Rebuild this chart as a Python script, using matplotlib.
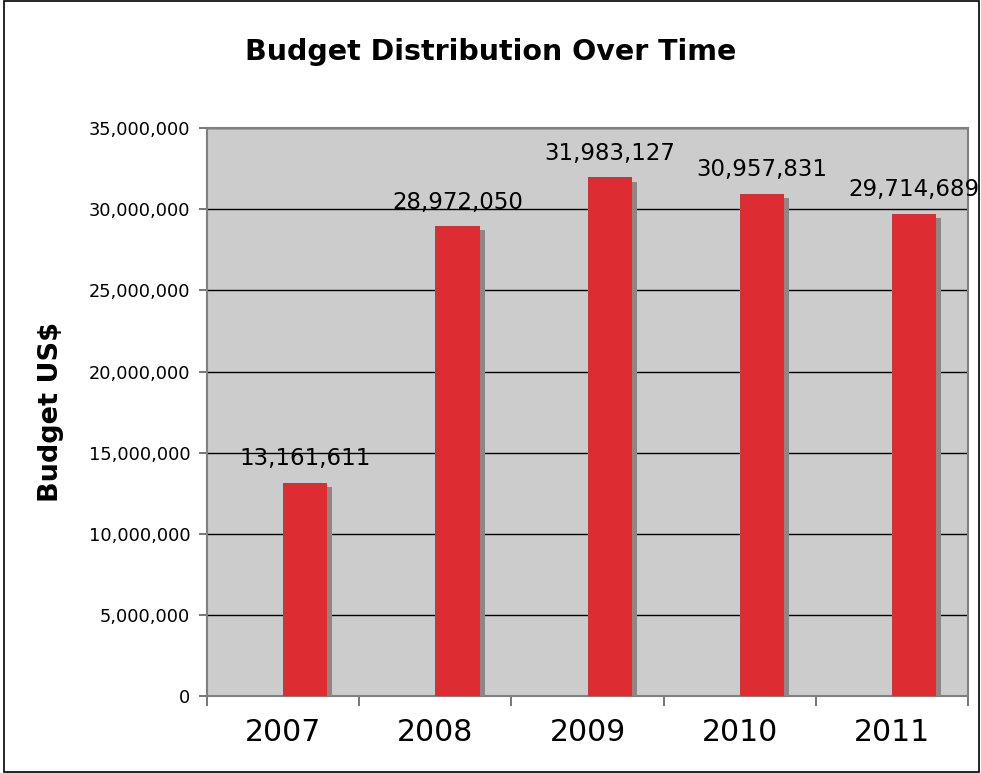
import matplotlib.pyplot as plt
import matplotlib.patheffects as pe
from matplotlib.patches import Rectangle
from matplotlib.ticker import FuncFormatter, MultipleLocator

years = ["2007", "2008", "2009", "2010", "2011"]
budget = [13161611, 28972050, 31983127, 30957831, 29714689]

fig = plt.figure(figsize=(9.81, 7.73), dpi=100)
ax = fig.add_axes([0.211, 0.0996, 0.776, 0.7345])
ax.set_facecolor("#cccccc")

# outer frame around the whole chart
fig.patches.append(Rectangle((0.004, 0.001), 0.994, 0.998, transform=fig.transFigure,
                             fill=False, edgecolor="black", linewidth=1.2))

pos = list(range(len(years)))
bar_w = 0.29
bars = ax.bar(pos, budget, width=bar_w, align="edge", color="#de2c33", zorder=3)
for b in bars:
    b.set_path_effects([pe.SimplePatchShadow(offset=(3.6, -3.2), shadow_rgbFace="#888888", alpha=1.0),
                        pe.Normal()])

for x, v in zip(pos, budget):
    ax.annotate(f"{v:,}", (x + bar_w / 2, v), xytext=(0, 9), textcoords="offset points",
                ha="center", va="bottom", fontsize=16.5, zorder=4)

ax.set_xlim(-0.5, 4.5)
ax.set_ylim(0, 35000000)
ax.yaxis.set_major_locator(MultipleLocator(5000000))
ax.yaxis.set_major_formatter(FuncFormatter(lambda v, p: f"{int(v):,}"))
ax.grid(axis="y", color="black", linewidth=1, zorder=1)
ax.set_axisbelow(True)

ax.set_xticks(pos)
ax.set_xticklabels(years, fontsize=21.5)
ax.set_xticks([p - 0.5 for p in pos] + [pos[-1] + 0.5], minor=True)
ax.tick_params(axis="x", which="major", length=0, pad=16)
ax.tick_params(axis="x", which="minor", length=7, color="#606060", width=1.2)
ax.tick_params(axis="y", labelsize=12.8, length=6, color="#606060", width=1.2, pad=6)

for s in ax.spines.values():
    s.set_color("#808080")
    s.set_linewidth(1.5)

ax.set_ylabel("Budget US$", fontsize=19.5, fontweight="bold", labelpad=18)
fig.text(0.5, 0.933, "Budget Distribution Over Time", ha="center", va="center",
         fontsize=20.5, fontweight="bold")

fig.savefig("out.png", dpi=100)
